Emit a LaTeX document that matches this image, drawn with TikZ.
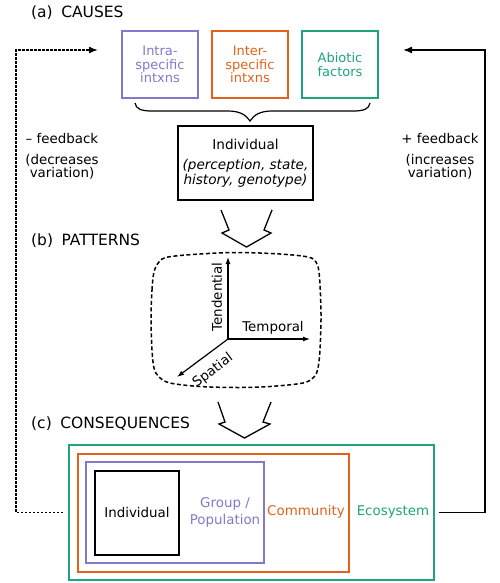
\documentclass[tikz,border=0pt]{standalone}
\usepackage{fontspec}
\setmainfont{DejaVu Sans}
\usetikzlibrary{arrows.meta}
\definecolor{cpurple}{HTML}{8378CC}
\definecolor{corange}{HTML}{E2621B}
\definecolor{cgreen}{HTML}{1FA37C}
\begin{document}
\begin{tikzpicture}[x=1pt,y=-1pt,
  heading/.style={anchor=west,inner sep=0pt,font=\fontsize{15.5}{17}\selectfont},
  causebox/.style={draw,line width=1.5pt,minimum width=76pt,minimum height=67pt,inner sep=0pt,align=center,font=\fontsize{13}{13.5}\selectfont},
  plain/.style={inner sep=0pt,align=center,font=\fontsize{13.4}{13}\selectfont},
  levelbox/.style={draw,line width=1.5pt,inner sep=0pt},
  fbneg/.style={line width=1.6pt,dash pattern=on 2.5pt off 1.5pt,-{Latex[length=9pt,width=7pt]}},
  fbpos/.style={line width=1.6pt,-{Latex[length=9pt,width=7pt]}},
  axis/.style={line width=1.2pt,-{Latex[length=7pt,width=5pt]}},
  widearrow/.style={line width=1.3pt,line join=miter},
]
\useasboundingbox (0,0) rectangle (500,583);

% headings
\node[heading] (ha) at (31,13) {(a)\hspace{8.5pt}CAUSES};
\node[heading] (hb) at (31,241) {(b)\hspace{8.5pt}PATTERNS};
\node[heading] (hc) at (31,424) {(c)\hspace{8.5pt}CONSEQUENCES};

% cause boxes
\node[causebox,draw=cpurple,text=cpurple] (intra) at (160,64.5) {Intra-\\specific\\intxns};
\node[causebox,draw=corange,text=corange] (inter) at (250,64.5) {Inter-\\specific\\intxns};
\node[causebox,draw=cgreen,text=cgreen] (abiotic) at (340,64.5) {Abiotic\\factors};

% brace
\draw[line width=1.2pt] (135,103) .. controls (136,109) and (141,111) .. (152,111)
  -- (228,111) .. controls (240,111) and (246,115) .. (250,121)
  .. controls (254,115) and (260,111) .. (272,111)
  -- (353,111) .. controls (364,111) and (369,109) .. (370,103);

% individual box (causes)
\node[draw,line width=1.8pt,minimum width=135pt,minimum height=74pt,inner sep=0pt,align=center,font=\fontsize{13.6}{13}\selectfont] (ind1) at (245.5,163)
  {Individual\\[7.5pt]\textit{(perception, state,}\\\textit{history, genotype)}};

% feedback labels
\node[plain] (negl) at (62,139) {– feedback};
\node[plain] (negl2) at (62,166.5) {(decreases\\variation)};
\node[plain] (posl) at (440,139) {+ feedback};
\node[plain] (posl2) at (440,166.5) {(increases\\variation)};

% wide arrows
\draw[widearrow] (221,210) -- (229,230) -- (222,233) -- (246.5,247) -- (271,233) -- (264,230) -- (272,210);
\draw[widearrow] (218,402) -- (225,422) -- (219,424) -- (244.5,438) -- (270,424) -- (263,422) -- (271,402);

% patterns blob
\draw[line width=1.5pt,dash pattern=on 4pt off 2.5pt] plot[smooth cycle,tension=0.55] coordinates {
  (151,320) (152,290) (154,272) (159,262) (168,257) (200,254) (238,252.5) (280,254) (308,257)
  (316,262) (319,272) (320.5,295) (321,320) (320,350) (318,368) (314,377) (303,383)
  (270,386.5) (238,387.5) (200,386.5) (170,383) (159,377) (154,368) (152,350)};

% axes
\coordinate (O) at (228,339);
\coordinate (up) at (228,257);
\coordinate (rt) at (310,339);
\coordinate (dg) at (177,377);
\draw[axis] (O) -- (up);
\draw[axis] (O) -- (rt);
\draw[axis] (O) -- (dg);
\node[plain,rotate=90] (tend) at (217,297) {Tendential};
\node[plain] (temp) at (273,328) {Temporal};
\node[plain,rotate=36.7] (spat) at (213,370.5) {Spatial};

% consequences boxes
\node[levelbox,draw=cgreen,minimum width=365pt,minimum height=135pt] (eco) at (251.5,512.5) {};
\node[levelbox,draw=corange,minimum width=271pt,minimum height=118pt] (comm) at (213.5,513) {};
\node[levelbox,draw=cpurple,minimum width=178pt,minimum height=101pt] (grp) at (175,512.5) {};
\node[levelbox,draw=black,line width=1.8pt,minimum width=84pt,minimum height=84pt] (ind2) at (137,513) {};
\node[plain] (ind2l) at (137,512) {Individual};
\node[plain,text=cpurple,font=\fontsize{13.4}{16.5}\selectfont] (grpl) at (225,512.5) {Group /\\Population};
\node[plain,text=corange] (comml) at (306,512) {Community};
\node[plain,text=cgreen] (ecol) at (393,512) {Ecosystem};

% feedback connectors
\coordinate (nl) at (16,50);
\coordinate (negend) at (98,50);
\coordinate (pr) at (485,50);
\coordinate (posend) at (403,50);
\draw[fbneg] ([xshift=-5pt]eco.west) -| (nl) -- (negend);
\draw[fbpos] ([xshift=4pt]eco.east) -| (pr) -- (posend);
\end{tikzpicture}
\end{document}
